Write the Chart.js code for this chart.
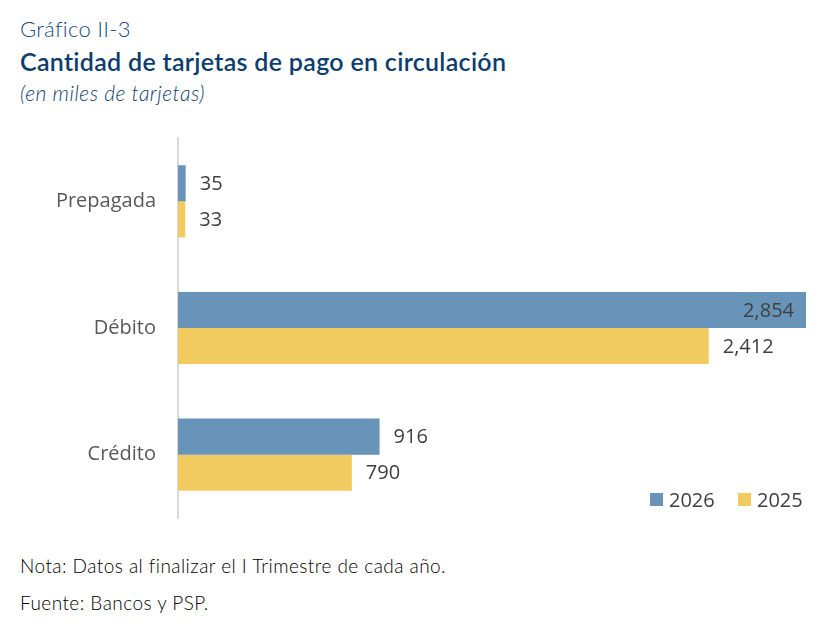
<!DOCTYPE html>
<html>
<head>
<meta charset="utf-8">
<script src="https://cdn.jsdelivr.net/npm/chart.js@4.4.1/dist/chart.umd.min.js"></script>
<style>
  body { margin: 0; width: 836px; height: 636px; background: #fff; position: relative; overflow: hidden; font-family: Lato, "Noto Sans", sans-serif; }
  .t1 { position: absolute; left: 20px; top: 15px; font-size: 22px; font-weight: 300; color: #174a80; letter-spacing: 0.3px; }
  .t2 { position: absolute; left: 20px; top: 46px; font-size: 25px; font-weight: 600; color: #0d3d6e; letter-spacing: 0.3px; }
  .t3 { position: absolute; left: 20px; top: 80px; font-size: 21px; font-weight: 300; font-style: italic; color: #123f70; letter-spacing: 0.5px; }
  .foot { position: absolute; left: 20px; font-size: 19px; font-weight: 300; color: #000; letter-spacing: 0.45px; }
  #wrap { position: absolute; left: 0; top: 130px; width: 836px; height: 400px; }
  .legend { position: absolute; top: 486px; left: 650px; font-size: 20px; color: #404040; font-family: "Open Sans", sans-serif; }
  .legend span.box { display: inline-block; width: 13px; height: 13px; margin-right: 6px; vertical-align: 1px; }
  .legend span.item { margin-right: 18px; }
</style>
</head>
<body>
<div class="t1">Gráfico II-3</div>
<div class="t2">Cantidad de tarjetas de pago en circulación</div>
<div class="t3">(en miles de tarjetas)</div>

<div id="wrap"><canvas id="chart"></canvas></div>

<div class="legend">
  <span class="item"><span class="box" style="background:#6894ba"></span>2026</span>
  <span class="item"><span class="box" style="background:#f2cb60"></span>2025</span>
</div>

<div class="foot" style="top:554px">Nota: Datos al finalizar el I Trimestre de cada año.</div>
<div class="foot" style="top:591px">Fuente: Bancos y PSP.</div>

<script>
const categories = ['Prepagada', 'Débito', 'Crédito']
const values2026 = [35, 2854, 916]
const values2025 = [33, 2412, 790]

const blue = '#6894ba'
const yellow = '#f2cb60'

// etiquetas de valor al final de cada barra
const valueLabels = {
    id: 'valueLabels',
    afterDatasetsDraw(chart) {
        let ctx = chart.ctx
        ctx.save()
        ctx.font = '20px "Open Sans", sans-serif'
        ctx.fillStyle = '#404040'
        ctx.textBaseline = 'middle'
        chart.data.datasets.forEach((ds, di) => {
            let meta = chart.getDatasetMeta(di)
            meta.data.forEach((bar, i) => {
                let v = ds.data[i]
                let txt = v.toLocaleString('en-US')
                let w = ctx.measureText(txt).width
                let x = bar.x + 14
                if (x + w > chart.chartArea.right) {
                    x = bar.x - 12 - w
                }
                ctx.textAlign = 'left'
                ctx.fillText(txt, x, bar.y + 1)
            })
        })
        ctx.restore()
    }
}

const data = {
    labels: categories,
    datasets: [{
        label: '2026',
        data: values2026,
        backgroundColor: blue,
        categoryPercentage: 0.57,
        barPercentage: 1.0
    }, {
        label: '2025',
        data: values2025,
        backgroundColor: yellow,
        categoryPercentage: 0.57,
        barPercentage: 1.0
    }]
}

const config = {
    type: 'bar',
    data: data,
    options: {
        indexAxis: 'y',
        responsive: true,
        maintainAspectRatio: false,
        animation: false,
        layout: { padding: { top: 8, right: 30, bottom: 12, left: 0 } },
        plugins: {
            legend: { display: false },
            tooltip: { enabled: false }
        },
        scales: {
            x: {
                display: false,
                min: 0,
                max: 2854
            },
            y: {
                grid: { display: false },
                border: { display: true, color: '#d9d9d9', width: 2 },
                ticks: {
                    color: '#595959',
                    font: { family: '"Open Sans", sans-serif', size: 20 },
                    padding: 14
                },
                afterFit: (s) => {
                    s.width = 178
                    s.paddingTop = 0
                    s.paddingBottom = 0
                }
            }
        }
    },
    plugins: [valueLabels]
}

let ctx = document.getElementById('chart').getContext('2d')
new Chart(ctx, config)
</script>
</body>
</html>
